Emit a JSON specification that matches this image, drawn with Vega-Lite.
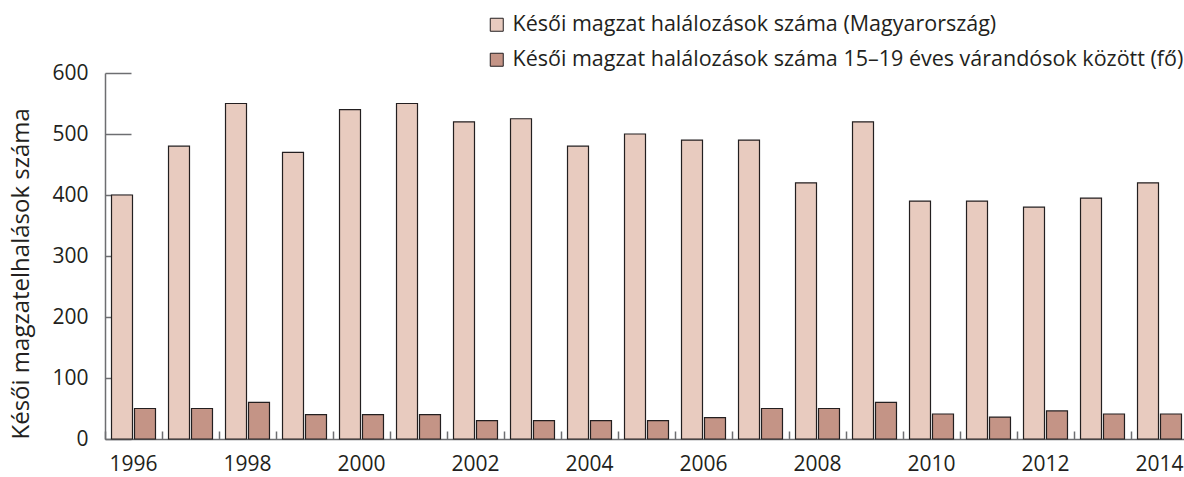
{
  "$schema": "https://vega.github.io/schema/vega-lite/v6.json",
  "width": 1083,
  "height": 366,
  "autosize": {"type": "none"},
  "padding": {"left": 105, "top": 73, "right": 0, "bottom": 38},
  "background": "#ffffff",
  "config": {
    "font": "Open Sans",
    "view": {"stroke": null},
    "axis": {"labelFont": "Open Sans", "titleFont": "Open Sans", "labelColor": "#231f20", "titleColor": "#231f20", "domainColor": "#6d6e71", "tickColor": "#6d6e71", "domainWidth": 1.5, "tickWidth": 1.5, "grid": false}
  },
  "data": {
    "values": [
      {"ev": 1996, "sorozat": "Késői magzat halálozások száma (Magyarország)", "ertek": 400},
      {"ev": 1997, "sorozat": "Késői magzat halálozások száma (Magyarország)", "ertek": 480},
      {"ev": 1998, "sorozat": "Késői magzat halálozások száma (Magyarország)", "ertek": 550},
      {"ev": 1999, "sorozat": "Késői magzat halálozások száma (Magyarország)", "ertek": 470},
      {"ev": 2000, "sorozat": "Késői magzat halálozások száma (Magyarország)", "ertek": 540},
      {"ev": 2001, "sorozat": "Késői magzat halálozások száma (Magyarország)", "ertek": 550},
      {"ev": 2002, "sorozat": "Késői magzat halálozások száma (Magyarország)", "ertek": 520},
      {"ev": 2003, "sorozat": "Késői magzat halálozások száma (Magyarország)", "ertek": 525},
      {"ev": 2004, "sorozat": "Késői magzat halálozások száma (Magyarország)", "ertek": 480},
      {"ev": 2005, "sorozat": "Késői magzat halálozások száma (Magyarország)", "ertek": 500},
      {"ev": 2006, "sorozat": "Késői magzat halálozások száma (Magyarország)", "ertek": 490},
      {"ev": 2007, "sorozat": "Késői magzat halálozások száma (Magyarország)", "ertek": 490},
      {"ev": 2008, "sorozat": "Késői magzat halálozások száma (Magyarország)", "ertek": 420},
      {"ev": 2009, "sorozat": "Késői magzat halálozások száma (Magyarország)", "ertek": 520},
      {"ev": 2010, "sorozat": "Késői magzat halálozások száma (Magyarország)", "ertek": 390},
      {"ev": 2011, "sorozat": "Késői magzat halálozások száma (Magyarország)", "ertek": 390},
      {"ev": 2012, "sorozat": "Késői magzat halálozások száma (Magyarország)", "ertek": 380},
      {"ev": 2013, "sorozat": "Késői magzat halálozások száma (Magyarország)", "ertek": 395},
      {"ev": 2014, "sorozat": "Késői magzat halálozások száma (Magyarország)", "ertek": 420},
      {"ev": 1996, "sorozat": "Késői magzat halálozások száma 15–19 éves várandósok között (fő)", "ertek": 50},
      {"ev": 1997, "sorozat": "Késői magzat halálozások száma 15–19 éves várandósok között (fő)", "ertek": 50},
      {"ev": 1998, "sorozat": "Késői magzat halálozások száma 15–19 éves várandósok között (fő)", "ertek": 60},
      {"ev": 1999, "sorozat": "Késői magzat halálozások száma 15–19 éves várandósok között (fő)", "ertek": 40},
      {"ev": 2000, "sorozat": "Késői magzat halálozások száma 15–19 éves várandósok között (fő)", "ertek": 40},
      {"ev": 2001, "sorozat": "Késői magzat halálozások száma 15–19 éves várandósok között (fő)", "ertek": 40},
      {"ev": 2002, "sorozat": "Késői magzat halálozások száma 15–19 éves várandósok között (fő)", "ertek": 30},
      {"ev": 2003, "sorozat": "Késői magzat halálozások száma 15–19 éves várandósok között (fő)", "ertek": 30},
      {"ev": 2004, "sorozat": "Késői magzat halálozások száma 15–19 éves várandósok között (fő)", "ertek": 30},
      {"ev": 2005, "sorozat": "Késői magzat halálozások száma 15–19 éves várandósok között (fő)", "ertek": 30},
      {"ev": 2006, "sorozat": "Késői magzat halálozások száma 15–19 éves várandósok között (fő)", "ertek": 35},
      {"ev": 2007, "sorozat": "Késői magzat halálozások száma 15–19 éves várandósok között (fő)", "ertek": 50},
      {"ev": 2008, "sorozat": "Késői magzat halálozások száma 15–19 éves várandósok között (fő)", "ertek": 50},
      {"ev": 2009, "sorozat": "Késői magzat halálozások száma 15–19 éves várandósok között (fő)", "ertek": 60},
      {"ev": 2010, "sorozat": "Késői magzat halálozások száma 15–19 éves várandósok között (fő)", "ertek": 41},
      {"ev": 2011, "sorozat": "Késői magzat halálozások száma 15–19 éves várandósok között (fő)", "ertek": 36},
      {"ev": 2012, "sorozat": "Késői magzat halálozások száma 15–19 éves várandósok között (fő)", "ertek": 46},
      {"ev": 2013, "sorozat": "Késői magzat halálozások száma 15–19 éves várandósok között (fő)", "ertek": 41},
      {"ev": 2014, "sorozat": "Késői magzat halálozások száma 15–19 éves várandósok között (fő)", "ertek": 41}
    ]
  },
  "layer": [
    {
      "mark": {"type": "bar", "stroke": "#231f20", "strokeWidth": 1.2},
      "encoding": {
        "x": {
          "field": "ev", "type": "ordinal",
          "scale": {"paddingInner": 0, "paddingOuter": 0},
          "axis": {
            "orient": "bottom",
            "title": null, "values": [1996, 1998, 2000, 2002, 2004, 2006, 2008, 2010, 2012, 2014],
            "labelAngle": 0, "labelFontSize": 21, "labelPadding": 14, "ticks": false,
            "domain": true
          }
        },
        "xOffset": {
          "field": "sorozat", "type": "nominal",
          "scale": {"paddingInner": 0.087, "paddingOuter": 0.283}
        },
        "y": {
          "field": "ertek", "type": "quantitative",
          "scale": {"domain": [0, 600], "nice": false},
          "axis": {
            "title": "Késői magzatelhalások száma", "titleFontSize": 24, "titleFontWeight": "normal",
            "titleAnchor": "start", "titlePadding": 18,
            "values": [0, 100, 200, 300, 400, 500, 600],
            "tickSize": -26, "labelPadding": 43, "labelFontSize": 21
          }
        },
        "color": {
          "field": "sorozat", "type": "nominal",
          "scale": {"range": ["#e8cbbf", "#c49486"]},
          "legend": {
            "title": null, "orient": "none", "legendX": 381, "legendY": -59,
            "symbolType": "square", "symbolSize": 169, "symbolStrokeColor": "#231f20", "symbolStrokeWidth": 1,
            "labelFontSize": 21.5, "labelColor": "#231f20", "labelFont": "Open Sans", "labelOffset": 5,
            "rowPadding": 12, "labelLimit": 800
          }
        }
      }
    },
    {
      "mark": {"type": "bar", "opacity": 0},
      "encoding": {
        "x": {
          "field": "ev", "type": "ordinal",
          "axis": {
            "orient": "bottom",
            "title": null, "labels": false, "domain": false, "ticks": true,
            "bandPosition": 0, "tickSize": -8
          }
        },
        "y": {"datum": 0}
      }
    }
  ],
  "resolve": {"axis": {"x": "independent"}}
}
